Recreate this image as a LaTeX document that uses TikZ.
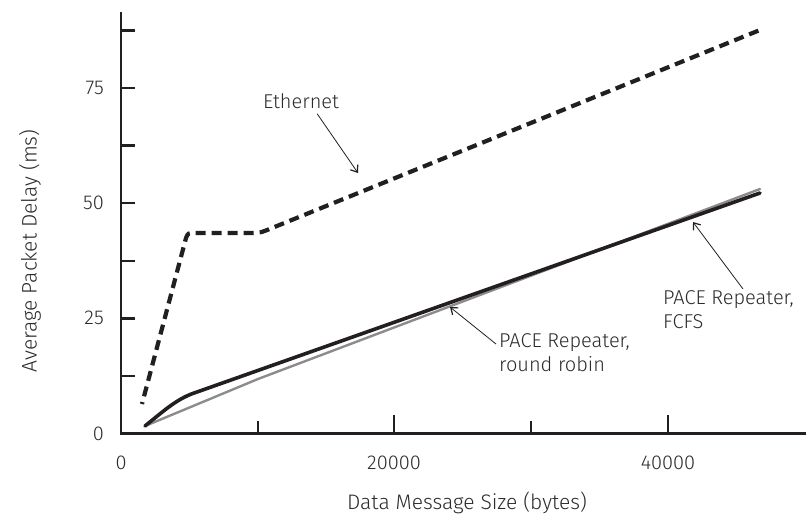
\documentclass[tikz,border=0pt]{standalone}
\usepackage{fontspec}
\setmainfont{Fira Sans}[UprightFont=* Light]
\usetikzlibrary{arrows.meta}
\definecolor{ink}{HTML}{231F20}
\definecolor{txt}{HTML}{2B2B2B}
\definecolor{midgray}{HTML}{8C8C8C}
\tikzset{
  axisline/.style={draw=ink, line width=2.4pt},
  tickline/.style={draw=ink, line width=2.4pt},
  ticklabel/.style={text=txt, font=\fontsize{20}{22}\selectfont, inner sep=0pt},
  axislabel/.style={text=txt, font=\fontsize{21}{23}\selectfont, inner sep=0pt},
  curvelabel/.style={text=txt, font=\fontsize{20}{24}\selectfont, inner sep=0pt, align=left},
  ethcurve/.style={draw=ink, line width=4.2pt, dash pattern=on 10pt off 6pt, dash phase=8pt},
  fcfscurve/.style={draw=ink, line width=3.6pt, line cap=round},
  rrcurve/.style={draw=midgray, line width=2.4pt, line cap=round},
  pointer/.style={draw=ink, line width=0.8pt, -{Straight Barb[length=6pt,width=9pt,line width=1.2pt]}}
}
\begin{document}
\begin{tikzpicture}[x=1pt,y=-1pt]
\useasboundingbox (0,0) rectangle (807,520);

% axes
\coordinate (origin) at (121,433.5);
\coordinate (ytop) at (121,12);
\coordinate (xend) at (806,433.5);
\draw[axisline] (ytop) -- (origin) -- (xend);

% y ticks every 12.5 ms
\foreach \yy in {375.9,318.3,260.7,203.1,145.5,87.9,30.3}
  \draw[tickline] (121,\yy) -- (135,\yy);

% x ticks: short at odd ten-thousands, tall at even
\foreach \xx in {258,531}
  \draw[tickline] (\xx,433.5) -- (\xx,421);
\foreach \xx in {394,668}
  \draw[tickline] (\xx,433.5) -- (\xx,415);

% tick labels
\node[ticklabel, anchor=east] (y0)  at (104,433.5) {0};
\node[ticklabel, anchor=east] (y25) at (104,318.3) {25};
\node[ticklabel, anchor=east] (y50) at (104,203.1) {50};
\node[ticklabel, anchor=east] (y75) at (104,87.9) {75};
\node[ticklabel] (x0)  at (121,463) {0};
\node[ticklabel] (x20) at (394,463) {20000};
\node[ticklabel] (x40) at (668,463) {40000};

% axis titles
\node[axislabel] (xtitle) at (467,503) {Data Message Size (bytes)};
\node[axislabel, rotate=90] (ytitle) at (30,251) {Average Packet Delay (ms)};

% curves
\draw[ethcurve] (142,404) -- (186,238) .. controls (188,233) .. (196,233)
  -- (248,233) .. controls (260,233) .. (272,228) -- (760,30);
\draw[rrcurve] (145,426) -- (258,379) -- (760,189);
\draw[fcfscurve] (145,426) .. controls (166,409) and (178,398) .. (197,392) -- (760,193);

% labels and pointers
\node[curvelabel] (eth) at (301,101) {Ethernet};
\coordinate (ethtip) at (358,173);
\draw[pointer] (eth.south east) ++(-22,5) -- (ethtip);

\node[curvelabel, anchor=north west] (rr) at (499,333) {PACE Repeater,\\round robin};
\coordinate (rrtip) at (450,307);
\draw[pointer] (rr.north west) ++(-3,11) -- (rrtip);

\node[curvelabel, anchor=north west] (fc) at (663,290) {PACE Repeater,\\FCFS};
\coordinate (fctip) at (693,222);
\draw[pointer] (fc.north west) ++(80,-1) -- (fctip);
\end{tikzpicture}
\end{document}
